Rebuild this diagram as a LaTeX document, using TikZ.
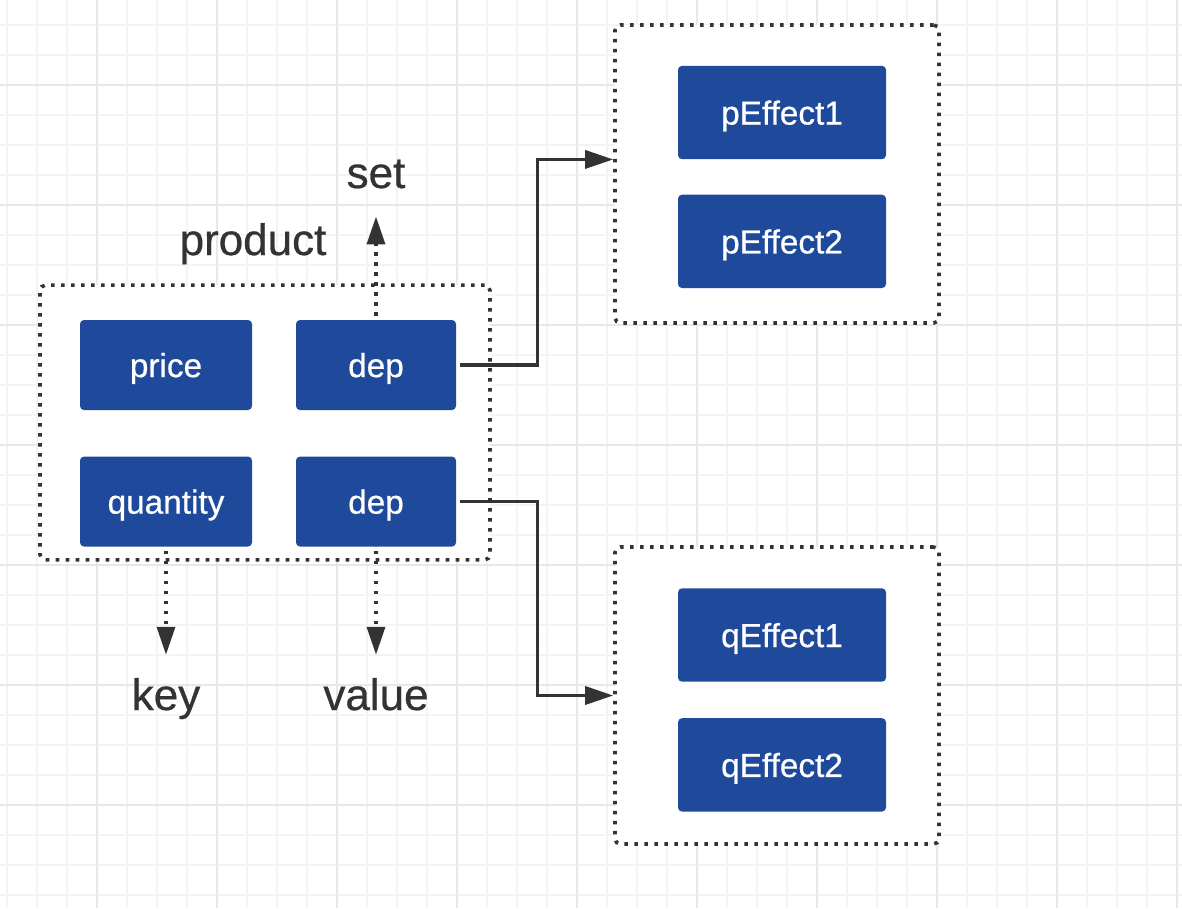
\documentclass[tikz,border=0pt]{standalone}
\usepackage{fontspec}
\setmainfont{Liberation Sans}[FakeBold=0.6]
\usetikzlibrary{arrows.meta, positioning}
\definecolor{boxblue}{HTML}{1F4A9C}
\definecolor{inkgray}{HTML}{333333}
\definecolor{gridminor}{HTML}{F4F4F4}
\definecolor{gridmajor}{HTML}{E8E8E8}

\tikzset{
  field/.style={rectangle, rounded corners=3pt, fill=boxblue, text=white, inner sep=0pt, text depth=0pt, font=\fontsize{25}{30}\selectfont},
  groupbox/.style={rectangle, rounded corners=4pt, draw=inkgray, fill=white, line width=2.7pt, dash pattern=on 2.7pt off 4.8pt},
  caption/.style={text=inkgray, font=\fontsize{33}{38}\selectfont},
  flow/.style={draw=inkgray, line width=2.6pt, -{Triangle[length=21pt,width=13.5pt]}},
  dotflow/.style={flow, line width=2.7pt, dash pattern=on 2.7pt off 4.8pt},
}

\begin{document}
\begin{tikzpicture}[x=0.75pt, y=-0.75pt]
  \useasboundingbox (0,0) rectangle (1182,908);
  % grid
  \foreach \gx in {7,37,...,1177}
    \draw[gridminor, line width=1.5pt] (\gx,0) -- (\gx,908);
  \foreach \gy in {-5,25,...,905}
    \draw[gridminor, line width=1.5pt] (0,\gy) -- (1182,\gy);
  \foreach \gx in {97,217,...,1177}
    \draw[gridmajor, line width=1.5pt] (\gx,0) -- (\gx,908);
  \foreach \gy in {85,205,...,805}
    \draw[gridmajor, line width=1.5pt] (0,\gy) -- (1182,\gy);

  % groups
  \node[groupbox, minimum width=337.5pt, minimum height=206pt] (product) at (265,422.5) {};
  \node[groupbox, minimum width=243pt, minimum height=223.5pt] (pgroup) at (777,174) {};
  \node[groupbox, minimum width=243pt, minimum height=222.75pt] (qgroup) at (777,695.5) {};

  % fields
  \node[field, minimum width=129pt, minimum height=67.5pt] (price) at (166,365) {price};
  \node[field, minimum width=120pt, minimum height=67.5pt] (dep1) at (376,365) {dep};
  \node[field, minimum width=129pt, minimum height=67.5pt, below=34.5pt of price] (quantity) {quantity};
  \node[field, minimum width=120pt, minimum height=67.5pt, below=34.5pt of dep1] (dep2) {dep};

  \node[field, minimum width=156pt, minimum height=70pt] (pEffect1) at (782,112.5) {pEffect1};
  \node[field, minimum width=156pt, minimum height=70pt, below=26.25pt of pEffect1] (pEffect2) {pEffect2};
  \node[field, minimum width=156pt, minimum height=70pt] (qEffect1) at (782,635) {qEffect1};
  \node[field, minimum width=156pt, minimum height=70pt, below=27pt of qEffect1] (qEffect2) {qEffect2};

  % labels
  \node[caption, anchor=base] (setlbl) at (376,188) {set};
  \node[caption, anchor=base] (productlbl) at (253,255) {product};
  \node[caption, anchor=base] (keylbl) at (166,710) {key};
  \node[caption, anchor=base] (valuelbl) at (376,710) {value};

  % arrows
  \draw[dotflow, shorten <=3pt, shorten >=17.5pt] (dep1.north) -- (setlbl.south);
  \draw[dotflow, shorten <=3pt, shorten >=14pt] (quantity.south) -- (keylbl.north);
  \draw[dotflow, shorten <=3pt, shorten >=14pt] (dep2.south) -- (valuelbl.north);
  \draw[flow, shorten <=3pt] (dep1.east) -- ++(81,0) |- (pgroup.west |- pEffect1.south);
  \draw[flow, shorten <=3pt] (dep2.east) -- ++(81,0) |- (qgroup.west);
\end{tikzpicture}
\end{document}
